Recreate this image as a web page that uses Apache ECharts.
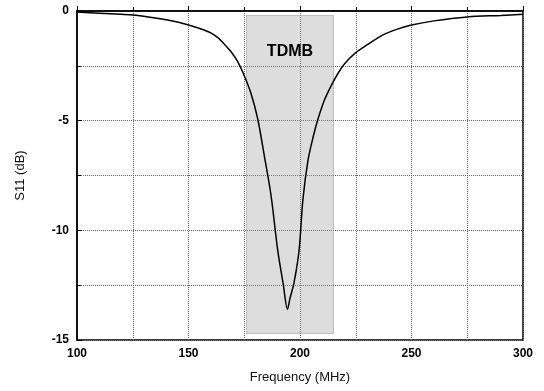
<!DOCTYPE html>
<html>
<head>
<meta charset="utf-8">
<script src="https://cdn.jsdelivr.net/npm/echarts@6/dist/echarts.min.js"></script>
<style>
  html, body { margin: 0; padding: 0; background: #fff; }
  #chart { width: 544px; height: 391px; }
</style>
</head>
<body>
<div id="chart"></div>
<script>
// frequency (MHz) and S11 (dB)
var freq = [100, 110, 120, 125, 132, 140, 145, 150, 155, 160, 163, 166, 169, 172, 175, 178, 181, 184, 187, 190, 192.4, 194.4,
            195.5, 197.3, 199.6, 201.3, 203.6, 206, 208, 211, 214, 217, 220, 225, 230, 237, 243, 250, 260, 275, 290, 300];
var s11 = [-0.05, -0.1, -0.15, -0.18, -0.27, -0.4, -0.5, -0.64, -0.8, -1.0, -1.2, -1.5, -1.85, -2.3, -2.95, -3.75, -4.9, -6.6, -8.4, -10.9, -12.4, -13.6,
           -13.1, -12.4, -10.9, -8.6, -6.8, -5.7, -4.95, -4.05, -3.4, -2.85, -2.4, -1.9, -1.55, -1.1, -0.85, -0.64, -0.45, -0.27, -0.2, -0.15];

// TDMB band box
var bandX = [176, 215];
var bandY = [-0.2, -14.7];
var bandName = 'TDMB';

var xTicks = { min: 100, max: 300, step: 50 };
var yTicks = { min: -15, max: 0, step: 5 };

var data = freq.map(function (f, i) { return [f, s11[i]]; });

var chartDom = document.getElementById('chart');
var myChart = echarts.init(chartDom);
var option;

var fnt = 'Liberation Sans, Arial, sans-serif';

option = {
  animation: false,
  grid: { left: 77, right: 21, top: 11, bottom: 51, show: true, borderColor: '#000', borderWidth: 1.5 },
  xAxis: {
    type: 'value',
    min: xTicks.min, max: xTicks.max, interval: xTicks.step,
    name: 'Frequency (MHz)',
    nameLocation: 'middle',
    nameGap: 31,
    nameTextStyle: { fontFamily: fnt, fontSize: 13, color: '#111' },
    axisLine: { lineStyle: { color: '#000', width: 1.5 } },
    axisTick: { inside: true, length: 5, lineStyle: { color: '#000' } },
    minorTick: { show: true, splitNumber: 2, length: 4, lineStyle: { color: '#000' } },
    axisLabel: { fontFamily: fnt, fontSize: 12, fontWeight: 'bold', color: '#000', margin: 8 },
    splitLine: { show: true, lineStyle: { type: 'dotted', color: '#666', width: 1 } },
    minorSplitLine: { show: true, lineStyle: { type: 'dotted', color: '#666', width: 1 } }
  },
  yAxis: {
    type: 'value',
    min: yTicks.min, max: yTicks.max, interval: yTicks.step,
    name: 'S11 (dB)',
    nameLocation: 'middle',
    nameGap: 50,
    nameTextStyle: { fontFamily: fnt, fontSize: 13, color: '#111' },
    axisLine: { lineStyle: { color: '#000', width: 1.5 } },
    axisTick: { inside: true, length: 5, lineStyle: { color: '#000' } },
    minorTick: { show: true, splitNumber: 2, length: 4, lineStyle: { color: '#000' } },
    axisLabel: { fontFamily: fnt, fontSize: 12, fontWeight: 'bold', color: '#000', margin: 8 },
    splitLine: { show: true, lineStyle: { type: 'dotted', color: '#666', width: 1 } },
    minorSplitLine: { show: true, lineStyle: { type: 'dotted', color: '#666', width: 1 } }
  },
  series: [
    {
      type: 'line',
      data: data,
      smooth: 0.3,
      symbol: 'none',
      lineStyle: { color: '#000', width: 1.5 },
      z: 5,
      markArea: {
        silent: true,
        itemStyle: { color: 'rgba(150,150,150,0.32)', borderColor: '#888', borderWidth: 1, borderType: 'dotted' },
        label: {
          show: true, position: 'insideTop', distance: 29,
          fontFamily: fnt, fontSize: 16, fontWeight: 'bold', color: '#000'
        },
        data: [
          [
            { name: bandName, coord: [bandX[0], bandY[0]] },
            { coord: [bandX[1], bandY[1]] }
          ]
        ]
      }
    }
  ]
};

option && myChart.setOption(option);
</script>
</body>
</html>
